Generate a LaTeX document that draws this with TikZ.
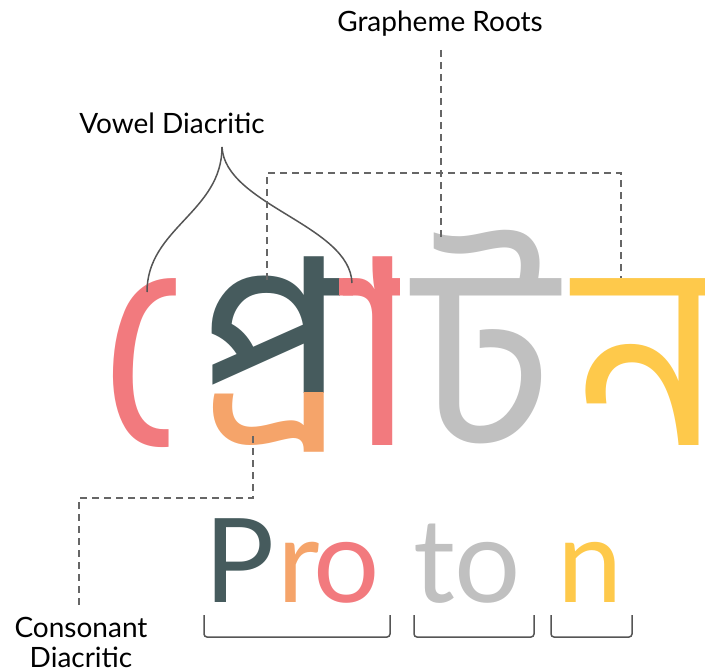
\documentclass[tikz,border=0pt]{standalone}
\usepackage{fontspec}
\setmainfont{Lato}
\newfontfamily\bnfont[Script=Bengali]{Hind Siliguri}
\definecolor{cdark}{HTML}{465B5D}
\definecolor{corange}{HTML}{F5A46A}
\definecolor{cpink}{HTML}{F27A7E}
\definecolor{cgray}{HTML}{C0C0C0}
\definecolor{cyellow}{HTML}{FEC94B}
\definecolor{cline}{HTML}{555555}
\definecolor{cdash}{HTML}{666666}
\begin{document}
\begin{tikzpicture}[x=1pt,y=-1pt,
  lbl/.style={font=\fontsize{28}{30}\selectfont, text=black, inner sep=0pt},
  big/.style={font=\fontsize{117}{117}\selectfont, inner sep=0pt, anchor=base west},
  bng/.style={font=\bnfont\fontsize{260}{260}\selectfont, inner sep=0pt, anchor=base west},
  dsh/.style={draw=cdash, line width=1.5pt, dash pattern=on 7pt off 5pt},
  crv/.style={draw=cline, line width=1.5pt},
  brk/.style={draw=cline, line width=1.5pt, rounded corners=3pt}]
\useasboundingbox (0,0) rectangle (705,669);
% Bengali word: the cluster is drawn in pieces, each clipped and coloured
\begin{scope}[shift={(46,145)}]\clip (0,0) rectangle (134,400);
\node[bng, text=cpink] (c1) at (50,300) {প্রো};\end{scope}
\begin{scope}[shift={(71,145)}]\clip (134,0) rectangle (268,247);
\node[bng, text=cdark] (c2) at (50,300) {প্রো};\end{scope}
\begin{scope}[shift={(71,145)}]\clip (134,247) rectangle (268,400);
\node[bng, text=corange] (c3) at (50,300) {প্রো};\end{scope}
\begin{scope}[shift={(71,145)}]\clip (268,0) rectangle (328,400);
\node[bng, text=cpink] (c4) at (50,300) {প্রো};\end{scope}
\node[bng, text=cgray] (tt) at (415,445) {ট};
\node[bng, text=cyellow] (nn) at (575,445) {ন};
% Latin word
\node[big, text=cdark] (P) at (204,602) {P};
\node[big, text=corange] (r) at (277,602) {r};
\node[big, text=cpink] (o1) at (313,602) {o};
\node[big, text=cgray] (t) at (413,602) {t};
\node[big, text=cgray] (o2) at (454,602) {o};
\node[big, text=cyellow] (n) at (557,602) {n};
% brackets
\draw[brk] (204,615) -- (204,637) -- (390,637) -- (390,615);
\draw[brk] (414,615) -- (414,637) -- (534,637) -- (534,615);
\draw[brk] (551,615) -- (551,637) -- (632,637) -- (632,615);
% labels
\node[lbl, anchor=base] (gr) at (440,32) {Grapheme Roots};
\node[lbl, anchor=base] (vd) at (172,133) {Vowel Diacritic};
\node[lbl, align=center, anchor=north] (cd) at (81,617) {Consonant\\Diacritic};
% connectors
\coordinate (vj) at (222,147);
\coordinate (vl) at (147,292);
\coordinate (vr) at (352,283);
\draw[crv] (vj) .. controls (222,212) and (147,228) .. (vl);
\draw[crv] (vj) .. controls (225,205) and (350,225) .. (vr);
\coordinate (gtop) at (441,50);
\coordinate (gbot) at (441,238);
\draw[dsh] (gtop) -- (gbot);
\coordinate (rl) at (267,280);
\coordinate (rt) at (621,173);
\coordinate (rr) at (621,278);
\draw[dsh] (rl) |- (rt) -- (rr);
\coordinate (ctop) at (253,436);
\coordinate (cmid) at (79,498);
\coordinate (cbot) at (79,606);
\draw[dsh] (ctop) |- (cmid) -- (cbot);
\end{tikzpicture}
\end{document}
